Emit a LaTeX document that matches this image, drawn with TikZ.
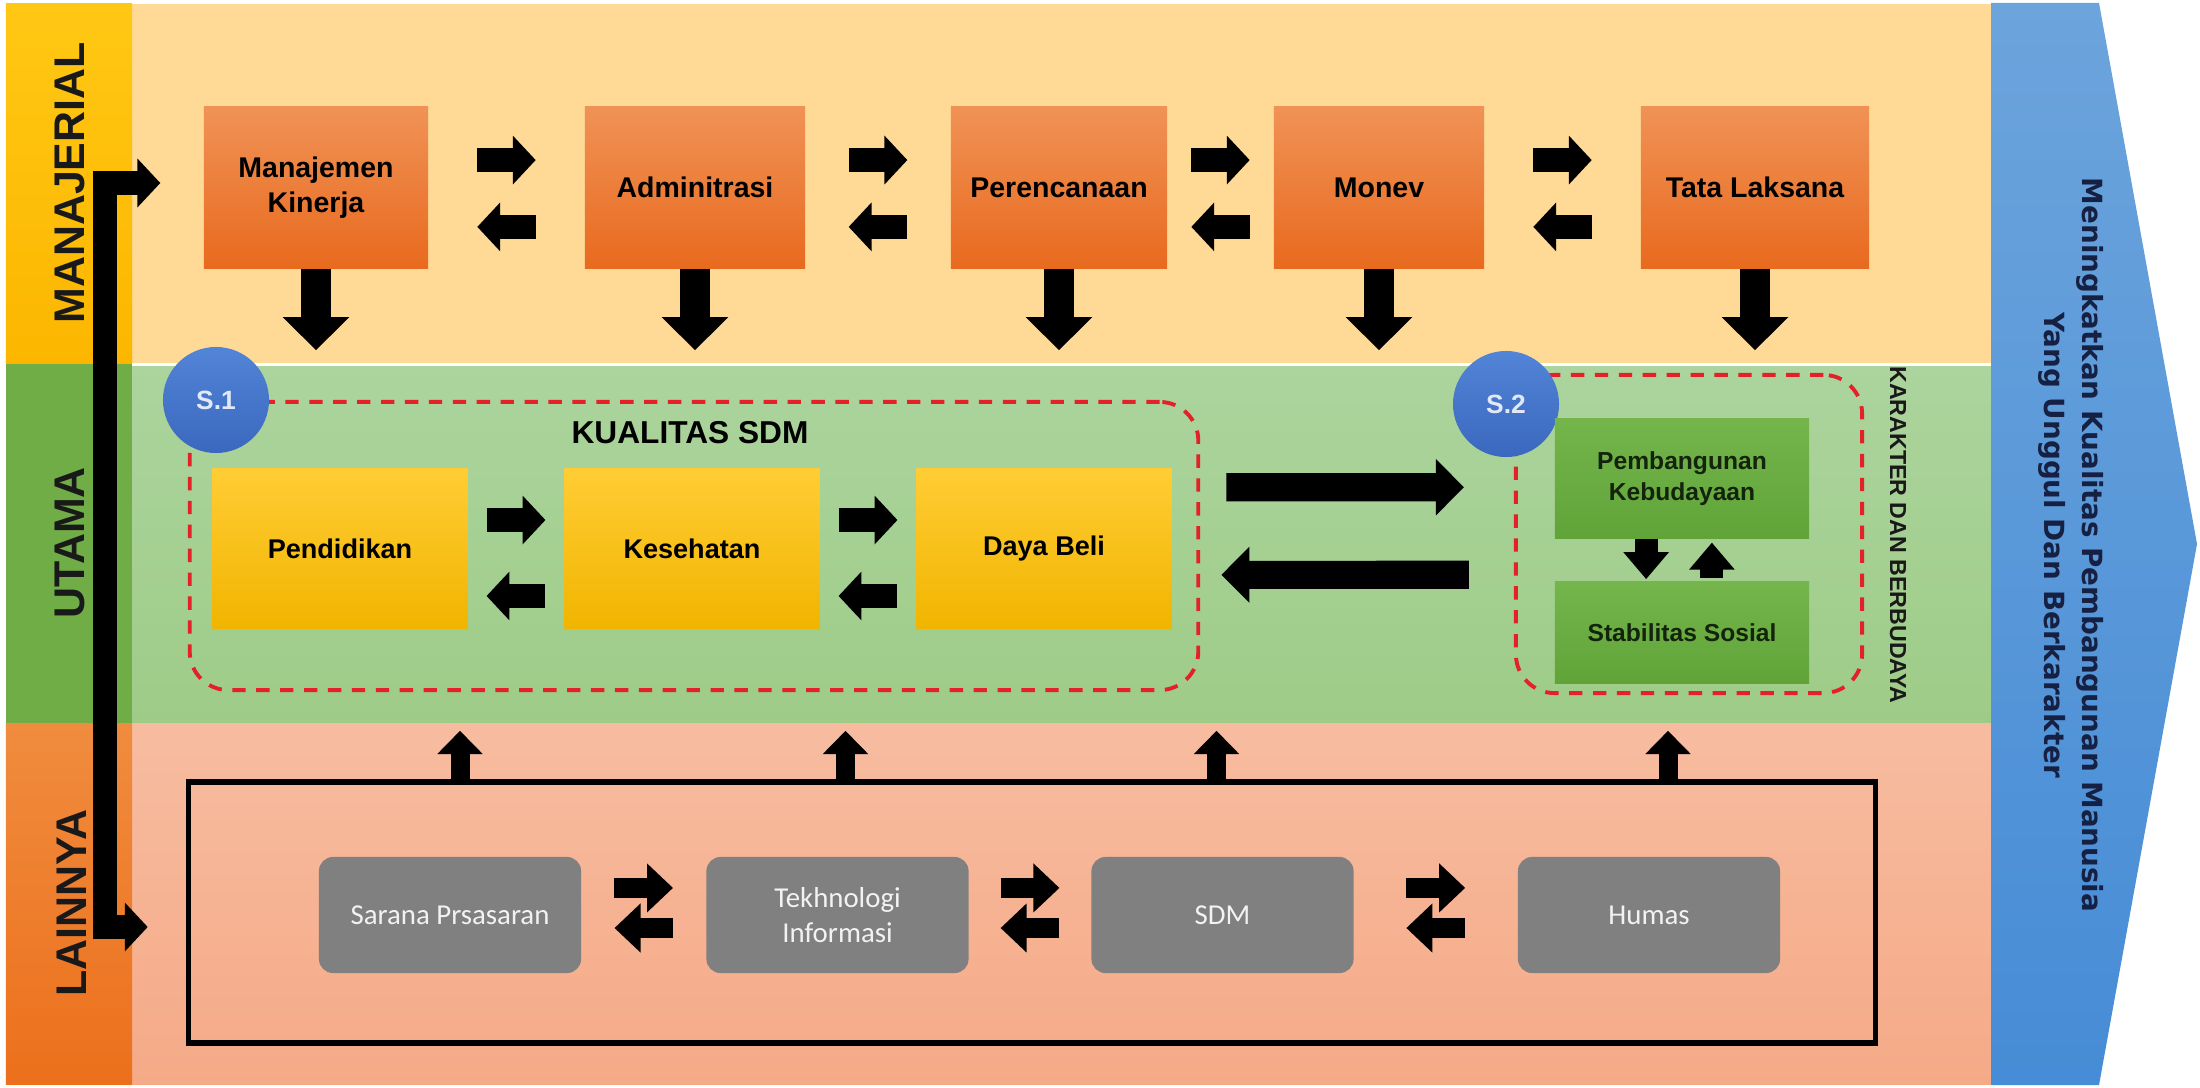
\documentclass[tikz,border=0pt]{standalone}
\usepackage{fontspec}
\setmainfont{Liberation Sans}
\newfontfamily\carlito{Carlito}
\newfontfamily\dejavu{DejaVu Sans}
\usetikzlibrary{arrows.meta,calc}
\definecolor{topband}{RGB}{255,217,150}
\definecolor{midtop}{RGB}{172,212,158}
\definecolor{midbot}{RGB}{158,204,135}
\definecolor{lowtop}{RGB}{247,188,160}
\definecolor{lowbot}{RGB}{245,170,135}
\definecolor{coltop}{RGB}{255,200,20}
\definecolor{colbot}{RGB}{252,182,0}
\definecolor{colmid}{RGB}{112,173,71}
\definecolor{collowtop}{RGB}{240,140,62}
\definecolor{collowbot}{RGB}{236,112,28}
\definecolor{mtop}{RGB}{240,146,86}
\definecolor{mbot}{RGB}{232,106,30}
\definecolor{ytop}{RGB}{255,204,52}
\definecolor{ybot}{RGB}{241,181,0}
\definecolor{gtop}{RGB}{116,181,76}
\definecolor{gbot}{RGB}{96,164,56}
\definecolor{gtext}{RGB}{20,36,12}
\definecolor{greybox}{RGB}{128,128,128}
\definecolor{btop}{RGB}{82,132,215}
\definecolor{bbot}{RGB}{58,104,190}
\definecolor{stext}{RGB}{225,233,247}
\definecolor{dashred}{RGB}{228,32,40}
\definecolor{ctop}{RGB}{108,164,220}
\definecolor{cbot}{RGB}{70,140,214}
\definecolor{navy}{RGB}{22,32,66}
\tikzstyle{band}=[rectangle,inner sep=0pt]
\tikzstyle{mbox}=[rectangle,inner sep=0pt,minimum height=1.61cm,top color=mtop,bottom color=mbot,text=black,font=\fontsize{8.1}{9.9}\selectfont\bfseries,align=center]
\tikzstyle{ybox}=[rectangle,inner sep=0pt,minimum width=2.55cm,minimum height=1.59cm,top color=ytop,bottom color=ybot,text=black,font=\fontsize{7.7}{9.4}\selectfont\bfseries]
\tikzstyle{gbox}=[rectangle,inner sep=0pt,minimum width=2.54cm,top color=gtop,bottom color=gbot,text=gtext,font=\fontsize{7}{9}\selectfont\bfseries,align=center]
\tikzstyle{sbox}=[rectangle,rounded corners=4pt,inner sep=0pt,minimum width=2.62cm,minimum height=1.16cm,fill=greybox,text=white!95!black,font=\carlito\fontsize{8.2}{9.9}\selectfont,align=center]
\tikzstyle{sball}=[circle,inner sep=0pt,minimum size=1.06cm,top color=btop,bottom color=bbot,text=stext,font=\fontsize{7.5}{9}\selectfont\bfseries]
\tikzstyle{dashbox}=[rectangle,draw=dashred,line width=1.1pt,dash pattern=on 3.8pt off 3pt,rounded corners=11pt,inner sep=0pt]
\tikzstyle{pairarrow}=[-{Triangle[length=6.5pt,width=13.5pt]},line width=6.8pt]
\tikzstyle{downarrow}=[-{Triangle[length=9.4pt,width=18.4pt]},line width=8.5pt]
\tikzstyle{bigarrow}=[-{Triangle[length=8pt,width=15.5pt]},line width=8pt]
\tikzstyle{smallarrow}=[-{Triangle[length=7.7pt,width=12.5pt]},line width=6.5pt]
\tikzstyle{uparrow}=[-{Triangle[length=6.6pt,width=12.5pt]},line width=5.4pt]
\tikzstyle{swaparrow}=[-{Triangle[length=7.4pt,width=13.5pt]},line width=5.7pt]
\tikzstyle{sidelabel}=[rotate=90,text={rgb,255:red,25;green,25;blue,25},font=\fontsize{12.2}{14}\selectfont\bfseries]

\begin{document}
\begin{tikzpicture}[x=0.01cm,y=-0.01cm]
\fill[white] (0,0) rectangle (2200,1088);
\useasboundingbox (0,0) rectangle (2200,1088);
% bands
\node[band,fill=topband,minimum width=18.59cm,minimum height=3.6cm] (manaj) at (1061.5,184) {};
\node[band,top color=midtop,bottom color=midbot,minimum width=18.59cm,minimum height=3.6cm] (utama) at (1061.5,544) {};
\node[band,top color=lowtop,bottom color=lowbot,minimum width=18.59cm,minimum height=3.6cm] (lain) at (1061.5,904) {};
\draw[white,line width=0.8pt] (manaj.south west) -- (manaj.south east);
\node[band,top color=coltop,bottom color=colbot,minimum width=1.26cm,minimum height=3.6cm] (cman) at (69,184) {};
\node[band,fill=colmid,minimum width=1.26cm,minimum height=3.6cm] (cuta) at (69,544) {};
\node[band,top color=collowtop,bottom color=collowbot,minimum width=1.26cm,minimum height=3.6cm] (clain) at (69,904) {};
\node[sidelabel] (lman) at (70,183) {MANAJERIAL};
\node[sidelabel] (luta) at (70,543) {UTAMA};
\node[sidelabel] (llain) at (72,903) {LAINNYA};
% goal chevron
\shade[top color=ctop,bottom color=cbot] (1991,3) -- (2099,3) -- (2197,544) -- (2099,1085) -- (1991,1085) -- cycle;
\node[rotate=-90,align=center,text=navy,font=\dejavu\fontsize{7.9}{11}\selectfont\bfseries] (goal) at (2071,545) {Meningkatkan Kualitas Pembangunan Manusia\\Yang Unggul Dan Berkarakter};
% manajerial
\node[mbox,minimum width=2.24cm] (mk) at (316,187.5) {Manajemen\\Kinerja};
\node[mbox,minimum width=2.20cm] (adm) at (695,187.5) {Adminitrasi};
\node[mbox,minimum width=2.16cm] (ren) at (1059,187.5) {Perencanaan};
\node[mbox,minimum width=2.10cm] (mon) at (1379,187.5) {Monev};
\node[mbox,minimum width=2.28cm] (tl) at (1755,187.5) {Tata Laksana};
\draw[pairarrow,shorten <=13.8pt,shorten >=13.8pt] ([yshift=7.8pt]mk.east) -- ([yshift=7.8pt]adm.west);
\draw[pairarrow,shorten <=13.8pt,shorten >=13.8pt] ([yshift=-11.2pt]adm.west) -- ([yshift=-11.2pt]mk.east);
\draw[pairarrow,shorten <=12.2pt,shorten >=12.2pt] ([yshift=7.8pt]adm.east) -- ([yshift=7.8pt]ren.west);
\draw[pairarrow,shorten <=12.2pt,shorten >=12.2pt] ([yshift=-11.2pt]ren.west) -- ([yshift=-11.2pt]adm.east);
\draw[pairarrow,shorten <=6.7pt,shorten >=6.7pt] ([yshift=7.8pt]ren.east) -- ([yshift=7.8pt]mon.west);
\draw[pairarrow,shorten <=6.7pt,shorten >=6.7pt] ([yshift=-11.2pt]mon.west) -- ([yshift=-11.2pt]ren.east);
\draw[pairarrow,shorten <=13.8pt,shorten >=13.8pt] ([yshift=7.8pt]mon.east) -- ([yshift=7.8pt]tl.west);
\draw[pairarrow,shorten <=13.8pt,shorten >=13.8pt] ([yshift=-11.2pt]tl.west) -- ([yshift=-11.2pt]mon.east);
\draw[downarrow,shorten >=3.7pt] (mk.south) -- (mk.south |- utama.north);
\draw[downarrow,shorten >=3.7pt] (adm.south) -- (adm.south |- utama.north);
\draw[downarrow,shorten >=3.7pt] (ren.south) -- (ren.south |- utama.north);
\draw[downarrow,shorten >=3.7pt] (mon.south) -- (mon.south |- utama.north);
\draw[downarrow,shorten >=3.7pt] (tl.south) -- (tl.south |- utama.north);
% utama
\node[dashbox,minimum width=10.08cm,minimum height=2.88cm] (sdm) at (694,546) {};
\node[dashbox,minimum width=3.46cm,minimum height=3.18cm] (kb) at (1689,534) {};
\node[sball] (s1) at (216,400) {S.1};
\node[sball] (s2) at (1506,404) {S.2};
\node[font=\fontsize{9}{11}\selectfont\bfseries] (kual) at (690,433) {KUALITAS SDM};
\node[ybox] (pe) at (340,548.5) {Pendidikan};
\node[ybox] (ke) at (692,548.5) {Kesehatan};
\node[ybox] (db) at (1044,548.5) {Daya Beli};
\draw[pairarrow,shorten <=5.2pt,shorten >=5.2pt] ([yshift=8.1pt]pe.east) -- ([yshift=8.1pt]ke.west);
\draw[pairarrow,shorten <=5.2pt,shorten >=5.2pt] ([yshift=-13.5pt]ke.west) -- ([yshift=-13.5pt]pe.east);
\draw[pairarrow,shorten <=5.2pt,shorten >=5.2pt] ([yshift=8.1pt]ke.east) -- ([yshift=8.1pt]db.west);
\draw[pairarrow,shorten <=5.2pt,shorten >=5.2pt] ([yshift=-13.5pt]db.west) -- ([yshift=-13.5pt]ke.east);
\draw[bigarrow,shorten <=7.4pt,shorten >=14.2pt] ([yshift=16.7pt]sdm.east) -- ([yshift=13.3pt]kb.west);
\draw[bigarrow,shorten <=12.8pt,shorten >=6pt] ([yshift=-11.6pt]kb.west) -- ([yshift=-8.2pt]sdm.east);
\node[gbox,minimum height=1.19cm] (pk) at (1682,478.5) {Pembangunan\\Kebudayaan};
\node[gbox,minimum height=1.01cm] (ss) at (1682,632.5) {Stabilitas Sosial};
\draw[smallarrow,shorten >=0.6pt] ([xshift=-10.2pt]pk.south) -- ([xshift=-10.2pt]ss.north);
\draw[smallarrow,shorten <=1pt,shorten >=1.1pt] ([xshift=8.5pt]ss.north) -- ([xshift=8.5pt]pk.south);
\node[rotate=-90,text={rgb,255:red,25;green,25;blue,25},font=\fontsize{6.6}{8}\selectfont\bfseries] (kar) at (1898,535) {KARAKTER DAN BERBUDAYA};
% lainnya
\node[draw,line width=1.6pt,minimum width=16.86cm,minimum height=2.61cm] (frame) at (1032,912.5) {};
\node[sbox] (sp) at (450,915) {Sarana Prsasaran};
\node[sbox] (ti) at (837.5,915) {Tekhnologi\\Informasi};
\node[sbox] (sd) at (1222.5,915) {SDM};
\node[sbox] (hum) at (1649,915) {Humas};
\draw[swaparrow,shorten <=9.3pt,shorten >=9.3pt] ([yshift=7.7pt]sp.east) -- ([yshift=7.7pt]ti.west);
\draw[swaparrow,shorten <=9.3pt,shorten >=9.3pt] ([yshift=-3.7pt]ti.west) -- ([yshift=-3.7pt]sp.east);
\draw[swaparrow,shorten <=8.9pt,shorten >=8.9pt] ([yshift=7.7pt]ti.east) -- ([yshift=7.7pt]sd.west);
\draw[swaparrow,shorten <=8.9pt,shorten >=8.9pt] ([yshift=-3.7pt]sd.west) -- ([yshift=-3.7pt]ti.east);
\draw[swaparrow,shorten <=14.8pt,shorten >=14.8pt] ([yshift=7.7pt]sd.east) -- ([yshift=7.7pt]hum.west);
\draw[swaparrow,shorten <=14.8pt,shorten >=14.8pt] ([yshift=-3.7pt]hum.west) -- ([yshift=-3.7pt]sd.east);
\draw[uparrow,shorten >=1.7pt] ($(sp.north |- frame.north)+(10,0)$) -- ($(sp.north |- utama.south)+(10,0)$);
\draw[uparrow,shorten >=1.7pt] ($(ti.north |- frame.north)+(8,0)$) -- ($(ti.north |- utama.south)+(8,0)$);
\draw[uparrow,shorten >=1.7pt] ($(sd.north |- frame.north)+(-6,0)$) -- ($(sd.north |- utama.south)+(-6,0)$);
\draw[uparrow,shorten >=1.7pt] ($(hum.north |- frame.north)+(19,0)$) -- ($(hum.north |- utama.south)+(19,0)$);
% side bar
\coordinate (ltop) at (105,183);
\coordinate (lbot) at (105,927);
\draw[line width=7pt,line cap=rect] (ltop) -- (lbot);
\draw[pairarrow,shorten >=12.2pt] (ltop) -- (mk.west |- ltop);
\draw[pairarrow,shorten >=10.8pt] (lbot) -- (frame.west |- lbot);
\end{tikzpicture}
\end{document}
